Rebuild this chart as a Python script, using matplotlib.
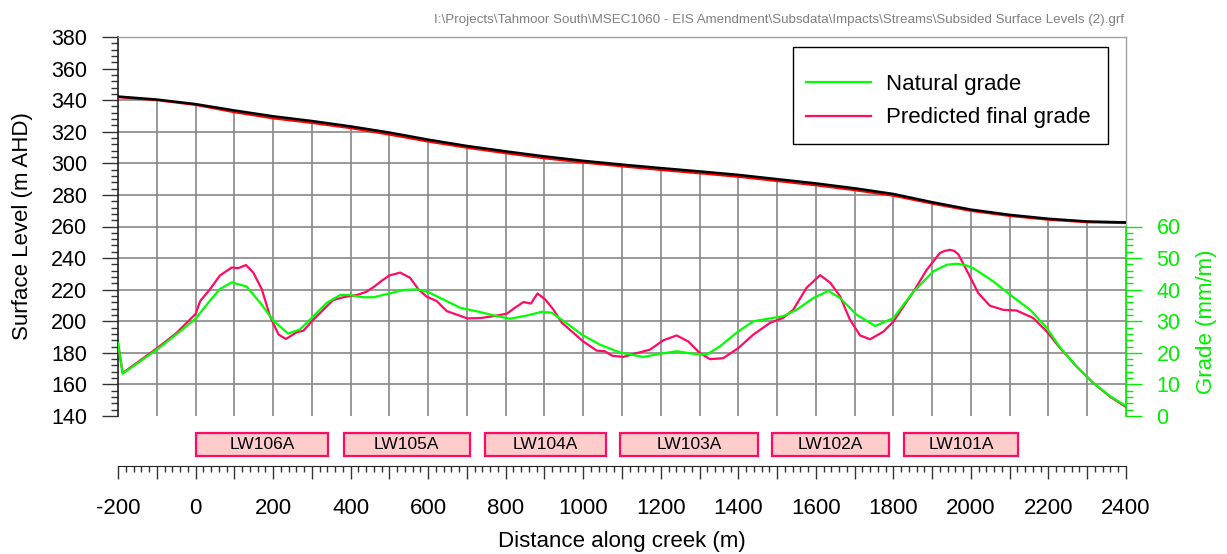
import numpy as np
import matplotlib
matplotlib.use("Agg")
import matplotlib.pyplot as plt
from matplotlib.patches import Rectangle, Polygon
from matplotlib.ticker import MultipleLocator, FuncFormatter

plt.rcParams['font.family'] = ['Liberation Sans', 'DejaVu Sans']

# Surface levels along the creek (m AHD)
surf_dist = [-200, -100, 0, 100, 200, 300, 400, 500, 600, 700, 800, 900, 1000,
             1100, 1200, 1300, 1400, 1500, 1600, 1700, 1800, 1900, 2000, 2100,
             2200, 2300, 2400]
natural_surface = [342.3, 340.4, 337.5, 333.5, 329.8, 326.8, 323.4, 319.5, 315.0,
                   311.0, 307.6, 304.4, 301.6, 299.2, 297.0, 294.9, 292.7, 290.0,
                   287.3, 284.2, 280.6, 275.4, 270.7, 267.4, 264.9, 263.2, 262.6]
predicted_surface = [342.3, 340.4, 337.4, 332.8, 328.9, 326.0, 322.7, 318.6, 314.2,
                     310.3, 306.8, 303.6, 300.9, 298.5, 296.2, 294.1, 291.9, 289.2,
                     286.5, 283.4, 279.9, 274.9, 270.3, 267.1, 264.7, 263.1, 262.6]

# Grade along the creek (mm/m)
nat_grade_dist = [-200, -188, -100, -50, 0, 37, 63, 93, 132, 171, 201, 239, 269,
                  304, 338, 373, 398, 433, 459, 500, 536, 571, 601, 639, 682, 734,
                  768, 811, 854, 893, 919, 958, 996, 1043, 1095, 1155, 1198, 1241,
                  1284, 1318, 1353, 1400, 1439, 1482, 1516, 1551, 1594, 1632, 1662,
                  1705, 1753, 1800, 1852, 1903, 1938, 1963, 1985, 2006, 2058, 2101,
                  2153, 2196, 2230, 2273, 2316, 2359, 2398]
natural_grade = [23.1, 13.4, 21.0, 25.8, 30.8, 36.5, 40.2, 42.3, 41.0, 35.2, 30.1,
                 26.1, 27.4, 31.6, 35.8, 38.3, 38.3, 37.6, 37.6, 38.8, 39.9, 40.1,
                 39.2, 36.9, 34.3, 32.9, 31.9, 30.8, 31.8, 33.0, 32.7, 29.3, 25.8,
                 22.6, 20.1, 18.7, 19.7, 20.5, 19.7, 19.4, 22.1, 26.8, 30.0, 30.9,
                 31.6, 33.7, 37.4, 39.6, 37.4, 32.1, 28.5, 31.0, 39.4, 45.8, 47.9,
                 48.2, 47.8, 46.8, 42.6, 38.4, 33.6, 27.8, 21.7, 15.6, 10.4, 6.3, 3.3]

pred_grade_dist = [-200, -188, -100, -50, 0, 12, 37, 63, 93, 110, 130, 149, 171,
                   192, 214, 233, 261, 278, 300, 330, 355, 381, 416, 440, 459, 480,
                   500, 528, 553, 575, 596, 622, 648, 674, 701, 734, 768, 803, 824,
                   846, 865, 882, 902, 923, 945, 975, 1000, 1035, 1056, 1074, 1103,
                   1138, 1172, 1207, 1241, 1271, 1301, 1327, 1361, 1400, 1439, 1482,
                   1516, 1542, 1576, 1611, 1637, 1662, 1688, 1714, 1740, 1774, 1800,
                   1852, 1886, 1920, 1933, 1946, 1957, 1968, 1993, 2019, 2049, 2084,
                   2118, 2161, 2196, 2230, 2273, 2316, 2359, 2398]
predicted_grade = [23.1, 13.6, 21.4, 26.2, 32.3, 36.4, 40.1, 44.5, 47.0, 46.8, 47.8,
                   45.4, 40.1, 31.6, 25.8, 24.4, 26.5, 27.0, 30.0, 33.7, 36.7, 37.6,
                   38.3, 39.3, 40.8, 42.8, 44.5, 45.4, 43.8, 40.1, 37.8, 36.4, 33.2,
                   32.1, 30.9, 31.0, 31.6, 32.4, 34.3, 36.1, 35.6, 38.8, 36.9, 33.7,
                   29.5, 26.3, 23.6, 20.7, 20.5, 19.1, 18.7, 19.9, 21.0, 24.0, 25.5,
                   23.6, 19.9, 18.0, 18.3, 21.5, 25.8, 29.5, 31.1, 33.7, 40.6, 44.6,
                   42.2, 38.0, 30.5, 25.5, 24.3, 26.7, 29.9, 39.4, 46.3, 51.6, 52.3,
                   52.6, 52.3, 51.1, 45.2, 38.9, 34.9, 33.6, 33.4, 31.0, 26.7, 21.5,
                   15.6, 10.4, 6.1, 3.0]

# Longwall panels
panel_names = ['LW106A', 'LW105A', 'LW104A', 'LW103A', 'LW102A', 'LW101A']
panel_start = [0, 383, 746, 1096, 1488, 1827]
panel_end = [342, 707, 1060, 1452, 1789, 2122]

GREEN = '#00ee00'
PINK = '#ff0a64'
FS = 16

W, H = 1227, 554
fig = plt.figure(figsize=(W / 100, H / 100), dpi=100)

left, right = 118 / W, 1126 / W
ax = fig.add_axes([left, 1 - 416 / H, right - left, (416 - 37) / H])
ax.set_xlim(-200, 2400)
ax.set_ylim(140, 380)

# grid only below the natural surface
under = Polygon(list(zip(surf_dist, natural_surface)) + [(2400, 140), (-200, 140)],
                closed=True, transform=ax.transData)
gl = dict(color='#888888', lw=1.2, zorder=1)
vg = ax.vlines(np.arange(-100, 2400, 100), 140, 380, **gl)
hg = ax.hlines(np.arange(160, 360, 20), -200, 2400, **gl)
vg.set_clip_path(under)
hg.set_clip_path(under)

ax.plot(np.array(surf_dist), np.array(predicted_surface) - 0.4, color='#ff0000',
        lw=1.6, zorder=3)
ax.plot(surf_dist, natural_surface, color='black', lw=1.8, zorder=4)

ax.yaxis.set_major_locator(MultipleLocator(20))
ax.yaxis.set_minor_locator(MultipleLocator(4))
ax.tick_params(axis='y', which='major', direction='out', length=11.5, width=1,
               pad=10.5, labelsize=FS - 0.5, color='#333333')
ax.tick_params(axis='y', which='minor', direction='out', length=5, width=1,
               color='#333333')
ax.tick_params(axis='x', which='both', bottom=False, labelbottom=False)
ax.spines['bottom'].set_visible(False)
for s in ('top', 'right'):
    ax.spines[s].set_color('#a0a0a0')
    ax.spines[s].set_linewidth(1.0)
ax.spines['left'].set_color('#222222')
ax.spines['left'].set_linewidth(1.2)
ax.set_ylabel('Surface Level (m AHD)', fontsize=FS)
ax.yaxis.set_label_coords(-0.084, 0.5)

# grade on the right hand axis
axr = ax.twinx()
axr.set_ylim(0, 120)
ln_nat, = axr.plot(nat_grade_dist, natural_grade, color='#00ff00', lw=1.6,
                   zorder=5, solid_joinstyle='round')
ln_pred, = axr.plot(pred_grade_dist, predicted_grade, color=PINK, lw=1.6,
                    zorder=4, solid_joinstyle='round')
for s in ('left', 'top', 'bottom'):
    axr.spines[s].set_visible(False)
axr.spines['right'].set_bounds(0, 60)
axr.spines['right'].set_color(GREEN)
axr.spines['right'].set_linewidth(1.2)
axr.set_yticks(np.arange(0, 61, 10))
axr.set_yticks(np.arange(0, 61, 2), minor=True)
axr.tick_params(axis='y', which='major', direction='out', length=11.5, width=1,
                pad=10.5, colors=GREEN, labelsize=FS - 0.5)
axr.tick_params(axis='y', which='minor', direction='out', length=5, width=1,
                colors=GREEN)
axr.set_ylabel('Grade (mm/m)', fontsize=FS, color=GREEN)
axr.yaxis.set_label_coords(1.0695, 0.25)

# legend with its own frame
axr.add_patch(Rectangle((793 / W, 1 - 144 / H), (1108 - 793) / W, (144 - 47) / H,
                        transform=fig.transFigure, facecolor='white',
                        edgecolor='black', lw=1.0, zorder=10, clip_on=False))
leg = axr.legend([ln_nat, ln_pred], ['Natural grade', 'Predicted final grade'],
                 loc='upper left', bbox_to_anchor=(806 / W, 1 - 74 / H),
                 bbox_transform=fig.transFigure, frameon=False, borderpad=0,
                 borderaxespad=0, handlelength=2.93, handletextpad=0.68,
                 labelspacing=0.56, fontsize=FS)
leg.set_zorder(11)

# panel bar and distance axis
axb = fig.add_axes([left, 1 - 466 / H, right - left, (466 - 433) / H])
axb.set_xlim(-200, 2400)
axb.set_ylim(0, 1)
for name, x0, x1 in zip(panel_names, panel_start, panel_end):
    axb.add_patch(Rectangle((x0, 0.31), x1 - x0, 0.68, facecolor='#ffcccc',
                            edgecolor=PINK, lw=1.6, clip_on=False))
    axb.text((x0 + x1) / 2, 0.65, name, ha='center', va='center', fontsize=12.5)
for s in ('left', 'right', 'top'):
    axb.spines[s].set_visible(False)
axb.spines['bottom'].set_color('#222222')
axb.set_yticks([])
axb.xaxis.set_major_locator(MultipleLocator(100))
axb.xaxis.set_minor_locator(MultipleLocator(20))
axb.xaxis.set_major_formatter(FuncFormatter(
    lambda v, p: f'{v:.0f}' if round(v) % 200 == 0 else ''))
axb.tick_params(axis='x', which='major', direction='out', length=9, width=1,
                pad=14, labelsize=FS, color='#333333')
axb.tick_params(axis='x', which='minor', direction='out', length=4.5, width=1,
                color='#333333')
axb.set_xlabel('Distance along creek (m)', fontsize=FS, labelpad=9)

fig.text(1124 / W, 1 - 20 / H,
         r'I:\Projects\Tahmoor South\MSEC1060 - EIS Amendment\Subsdata\Impacts'
         r'\Streams\Subsided Surface Levels (2).grf',
         ha='right', va='center', fontsize=9.6, color='#808080')

fig.savefig('out.png', dpi=100)
